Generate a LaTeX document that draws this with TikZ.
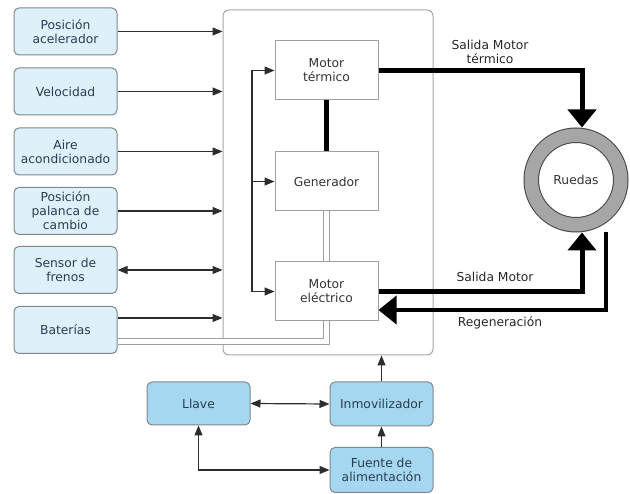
\documentclass[tikz,border=0pt]{standalone}
\usepackage{fontspec}
\setmainfont{DejaVu Sans}
\usepackage{xcolor}
\usetikzlibrary{arrows.meta}
\definecolor{cajaclara}{RGB}{222,240,250}
\definecolor{cajaazul}{RGB}{165,216,240}
\definecolor{borde}{RGB}{125,135,140}
\definecolor{texto}{RGB}{40,62,80}
\definecolor{linea}{RGB}{45,45,45}

\begin{document}
\begin{tikzpicture}[x=1pt,y=-1pt,>={Triangle[length=10pt,width=8pt]},
	letra/.style={font=\fontsize{12.3}{14}\selectfont},
	entrada/.style={rectangle,draw=borde,line width=1pt,fill=cajaclara,rounded corners=5pt,text=texto,minimum width=103pt,minimum height=47pt,align=center,inner sep=1pt,letra},
	llave/.style={entrada,fill=cajaazul,minimum height=44pt},
	bloque/.style={rectangle,draw=gray!75,line width=1pt,fill=white,text=black!80,minimum width=103pt,minimum height=59pt,align=center,inner sep=1pt,letra},
	fina/.style={draw=linea,line width=1.2pt},
	gruesa/.style={draw=black,line width=5pt},
	punta/.style={-{Triangle[length=18pt,width=28pt]}},
	etiqueta/.style={text=black!85,align=center,inner sep=0pt,letra}]
	\useasboundingbox (0,0) rectangle (630,494);
	
	% caja de control
	\node[rectangle,draw=gray!70,line width=1pt,rounded corners=6pt,minimum width=210pt,minimum height=345pt] 
	(ctrl) at (328,182.5){};
	
	% entradas
	\foreach \i/\y/\name in {1/31.5/{Posición\\acelerador},2/91.5/{Velocidad},3/151.5/{Aire\\acondicionado},4/211/{Posición\\palanca de\\cambio},5/270/{Sensor de\\frenos},6/330/{Baterías}}{
		\node[entrada] (e\i) at (65.5,\y){\name};
	}
	\foreach \i in {1,2,3,4}{
		\draw[fina,->] (e\i.east) -- (e\i.east -| ctrl.west);}
	\draw[fina,<->] (e5.east) -- (e5.east -| ctrl.west);
	\draw[fina,->] ([yshift=12pt]e6.east) -- ([yshift=12pt]e6.east -| ctrl.west);
	
	% motores y generador
	\node[bloque] (m1) at (326.5,70.5){Motor\\térmico};
	\node[bloque] (gen) at (326.5,181.5){Generador};
	\draw[gray!75,line width=1pt,double=white,double distance=5.5pt] ([yshift=-11.5pt]e6.east) -| (gen.south);
	\node[bloque] (m2) at (326.5,291.5){Motor\\eléctrico};
	
	\coordinate (bus) at (252,70.5);
	\draw[fina,->] (bus) -- (m1.west);
	\draw[fina,->] (bus |- gen.west) -- (gen.west);
	\draw[fina,->] (bus) |- (m2.west);
	
	\draw[gruesa] (m1.south) -- (gen.north);
	
	% ruedas
	\node[circle,draw=gray!50!black,line width=1pt,double=gray!70,double distance=13.5pt,fill=white,minimum size=89.5pt,outer sep=7.75pt,text=black!80,letra] 
	(rue) at (576,180){Ruedas};
	
	\draw[gruesa,punta] (m1.east) -| ([xshift=6pt]rue.north);
	\draw[gruesa,punta] (m2.east) -| ([xshift=6pt]rue.south);
	\draw[gruesa,line width=4pt,punta] ([xshift=30pt]rue.south) |- ([yshift=-18.5pt]m2.east);
	
	\node[etiqueta] (t1) at (490,52) {Salida Motor\\térmico};
	\node[etiqueta] (t2) at (495,277) {Salida Motor};
	\node[etiqueta] (t3) at (500,323) {Regeneración};
	
	% llave e inmovilizador
	\node[llave,minimum height=43pt] (llv) at (198.5,403.5){Llave};
	\node[llave] (inm) at (381.5,404){Inmovilizador};
	\node[llave,minimum height=45pt] (fue) at (381.5,470){Fuente de\\alimentación};
	
	\draw[fina,<->] (llv.east) -- (inm.west);
	\draw[fina,->] (inm.north) -- (inm.north |- ctrl.south);
	\draw[fina,->] (fue.north) -- (inm.south);
	\draw[fina,<->] (llv.south) |- (fue.west);
\end{tikzpicture}
\end{document}
